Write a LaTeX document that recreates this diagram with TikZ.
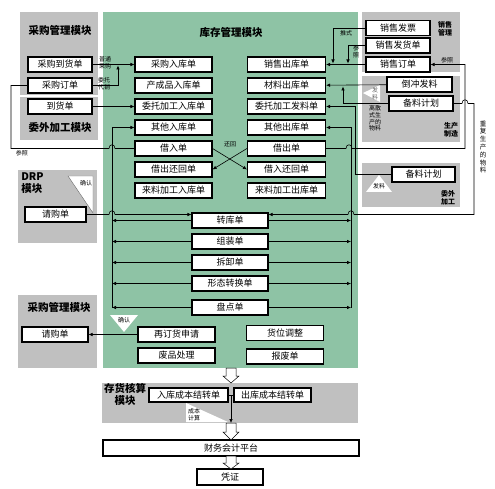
\documentclass[tikz,border=0pt]{standalone}
\usepackage{fontspec}
\setmainfont{Noto Sans CJK SC}
\usetikzlibrary{arrows.meta}
\definecolor{grayp}{RGB}{192,192,192}
\definecolor{greenp}{RGB}{142,195,165}

\tikzset{
  box/.style={draw, line width=1.1pt, fill=white, minimum width=77pt,
    minimum height=15pt, inner sep=0pt, font=\fontsize{9}{9.5}\selectfont},
  arr/.style={-{Latex[length=4pt,width=3.5pt]}},
  lbl/.style={font=\fontsize{6}{6.8}\selectfont, align=center, inner sep=0pt},
  ttl/.style={font=\bfseries\fontsize{10.5}{12}\selectfont, align=center, inner sep=0pt},
  sttl/.style={font=\bfseries\fontsize{7}{8}\selectfont, align=center, inner sep=0pt},
  tri/.style={fill=white, draw=black!60, line width=0.4pt},
}

\begin{document}
\begin{tikzpicture}[x=1pt, y=-1pt, line width=0.6pt]
  \useasboundingbox (0,0) rectangle (495,489);

  % panels
  \fill[greenp] (103,12) rectangle (358,368);
  \fill[grayp] (20,12) rectangle (98,95);
  \fill[grayp] (20,97) rectangle (98,140);
  \fill[grayp] (18,170) rectangle (97,243);
  \fill[grayp] (18,295) rectangle (97,368);
  \fill[grayp] (362,12) rectangle (460,72);
  \fill[grayp] (362,76) rectangle (460,142);
  \fill[grayp] (362,163) rectangle (460,207);
  \fill[grayp] (102,383) rectangle (358,423);

  % titles
  \node[ttl] (kcgl) at (231,32) {库存管理模块};
  \node[ttl] (cggl1) at (60,30) {采购管理模块};
  \node[ttl] (wwjg) at (60,128) {委外加工模块};
  \node[ttl, align=left, anchor=north west] (drpmk) at (21,172) {DRP\\模块};
  \node[ttl] (cggl2) at (59,307) {采购管理模块};
  \node[ttl] (chhs) at (125,394) {存货核算\\模块};
  \node[sttl] (xsgl) at (445,29) {销售\\管理};
  \node[sttl] (sczz) at (451,130) {生产\\制造};
  \node[sttl] (wwjg2) at (448,198) {委外\\加工};

  % purchase boxes
  \node[box, minimum width=64pt] (cgdh) at (60,64.5) {采购到货单};
  \node[box, minimum width=64pt] (cgdd) at (60,85.5) {采购订单};
  \node[box, minimum width=64pt] (dhd) at (60,106.5) {到货单};

  % inventory columns
  \foreach \n/\t [count=\i from 0] in {cgrk/采购入库单, ccrk/产成品入库单,
      wtrk/委托加工入库单, qtrk/其他入库单, jrd/借入单, jchh/借出还回单,
      llrk/来料加工入库单}
    \node[box] (\n) at (173.5,64.5+21*\i) {\t};
  \foreach \n/\t [count=\i from 0] in {xsck/销售出库单, clck/材料出库单,
      wtfl/委托加工发料单, qtck/其他出库单, jcd/借出单, jrhh/借入还回单,
      llck/来料加工出库单}
    \node[box, minimum width=78pt] (\n) at (286.5,64.5+21*\i) {\t};
  \foreach \n/\t/\y in {zkd/转库单/220.5, zzd/组装单/241.5, cxd/拆卸单/262.5,
      xtzh/形态转换单/283.5, pdd/盘点单/307.5}
    \node[box, minimum width=76pt] (\n) at (230,\y) {\t};
  \node[box] (zdhs) at (176.5,334.5) {再订货申请};
  \node[box] (fpcl) at (176.5,355.5) {废品处理};
  \node[box] (hwtz) at (285,333) {货位调整};
  \node[box] (bfd) at (285,356.5) {报废单};

  % other modules
  \node[box, minimum width=61pt] (qgdrp) at (55.5,214.5) {请购单};
  \node[box, minimum width=66pt] (qgcg) at (55,334.5) {请购单};
  \node[box, minimum width=64pt] (xsfp) at (398,28) {销售发票};
  \node[box, minimum width=64pt] (xsfh) at (398,45.5) {销售发货单};
  \node[box, minimum width=64pt] (xsdd) at (398,64.5) {销售订单};
  \node[box, minimum width=65pt] (dcfl) at (419.5,84.5) {倒冲发料};
  \node[box, minimum width=64pt] (blsc) at (421,103.5) {备料计划};
  \node[box, minimum width=63pt] (blww) at (423.5,174.5) {备料计划};
  \node[box, minimum width=79pt, minimum height=14pt] (rkcb) at (188.5,395) {入库成本结转单};
  \node[box, minimum width=77pt, minimum height=14pt] (ckcb) at (272.5,395) {出库成本结转单};
  \node[box, minimum width=256pt, minimum height=16pt] (cwpt) at (231,448) {财务会计平台};
  \node[box, minimum width=66pt, minimum height=16pt] (pz) at (230,477) {凭证};

  % triangles
  \draw[tri] (68,176) -- (93,176) -- (93,213) -- cycle;
  \node[lbl] (qr1) at (86,183) {确认};
  \fill[white] (110,315) -- (138,315) -- (124,332) -- cycle;
  \node[lbl] (qr2) at (124,320) {确认};
  \fill[white] (363,93) -- (380,85) -- (380,102) -- cycle;
  \node[lbl, text=black!60] (fl1) at (375,93.5) {发\\料};
  \fill[white] (379,175) -- (392,192) -- (366,192) -- cycle;
  \node[lbl] (fl2) at (379,186) {发料};
  \fill[white] (186,403) -- (186,422) -- (228,422) -- cycle;
  \node[lbl, align=left] (cbjs) at (194,415) {成本\\计算};

  % labels
  \node[lbl] (ptcg) at (105,63) {普通\\采购};
  \node[lbl] (wtdx) at (104,84) {委托\\代销};
  \node[lbl] (cz1) at (22,153) {参照};
  \node[lbl] (hh) at (230,144) {还回};
  \node[lbl] (ts) at (346,33) {推式};
  \node[lbl] (cz2) at (356,52) {参\\照};
  \node[lbl] (cz3) at (447,60) {参照};
  \node[lbl] (lss) at (375,118.5) {离散\\式生\\产的\\物料};
  \node[lbl, font=\fontsize{6.5}{7.8}\selectfont] (cfsc) at (483,147) {重\\复\\生\\产\\的\\物\\料};

  % purchase flows
  \draw[arr] (cgdh) -- (cgrk);
  \draw[arr] (cgdd.east) -| (118,65.5);
  \draw[arr] (dhd) -- (wtrk);
  \draw (cgdd.west) -- (11,85.5) -- (11,148.5) -- (109,148.5)
    .. controls (109,143.5) and (115,143.5) .. (115,148.5) -- (jrd.west);

  % buses
  \coordinate (lbus) at (112,127.5);
  \coordinate (rbus) at (351,127.5);
  \draw (lbus) -- (lbus |- pdd.west);
  \draw (rbus) -- (rbus |- pdd.east);
  \draw[arr] (lbus) -- (qtrk.west);
  \draw[arr] (rbus) -- (qtck.east);
  \foreach \n in {zkd,zzd,cxd,xtzh,pdd}
  {
    \draw[arr] (\n.west) -- (\n.west -| lbus);
    \draw[arr] (\n.east) -- (\n.east -| rbus);
  }
  \draw[arr] (qgdrp.east) -- (109,214.5)
    .. controls (109,209.5) and (115,209.5) .. (115,214.5) -- ([yshift=6pt]zkd.west);

  % loan cross
  \draw[arr] (jrd.east) -- (jrhh.west);
  \draw[arr] (jcd.west) -- (jchh.east);

  % sales
  \draw[arr] (xsdd) -- (xsck);
  \draw[arr] (xsfp.west) -| (333,63.5);
  \draw[arr] (xsfh.west) -| (348,63.5);
  \draw[arr] (jcd.east) -- (346,148.5)
    .. controls (346,143.5) and (352,143.5) .. (352,148.5) -- (465,148.5)
    -- (465,64.5) -- (xsdd.east);

  % production
  \draw[arr] (dcfl) -- (clck);
  \draw[arr] (blsc.west) -| (343,86.5);
  \draw[arr] (blww.west) -- (355,174.5) -- (355,106.5) -- (wtfl.east);
  \draw[arr] (blsc.east) -- (462,103.5)
    .. controls (462,98.5) and (468,98.5) .. (468,103.5) -- (474,103.5)
    -- (474,214.5) -- (354,214.5)
    .. controls (354,209.5) and (348,209.5) .. (348,214.5) -- ([yshift=6pt]zkd.east);

  % reorder
  \draw[arr] (zdhs) -- (qgcg);

  % costing
  \draw (rkcb) -- (ckcb);
  \draw[arr] (231,395) -- (231,423);

  % hollow arrows
  \draw[fill=white, line width=0.5pt] (226,368) -- (226,376) -- (223,376) -- (231,383)
    -- (239,376) -- (236,376) -- (236,368) -- cycle;
  \draw[fill=white, line width=0.5pt] (226,423) -- (226,432) -- (223,432) -- (231,440)
    -- (239,432) -- (236,432) -- (236,423) -- cycle;
  \draw[fill=white, line width=0.5pt] (226,456) -- (226,463) -- (223,463) -- (231,469)
    -- (239,463) -- (236,463) -- (236,456) -- cycle;
\end{tikzpicture}
\end{document}
